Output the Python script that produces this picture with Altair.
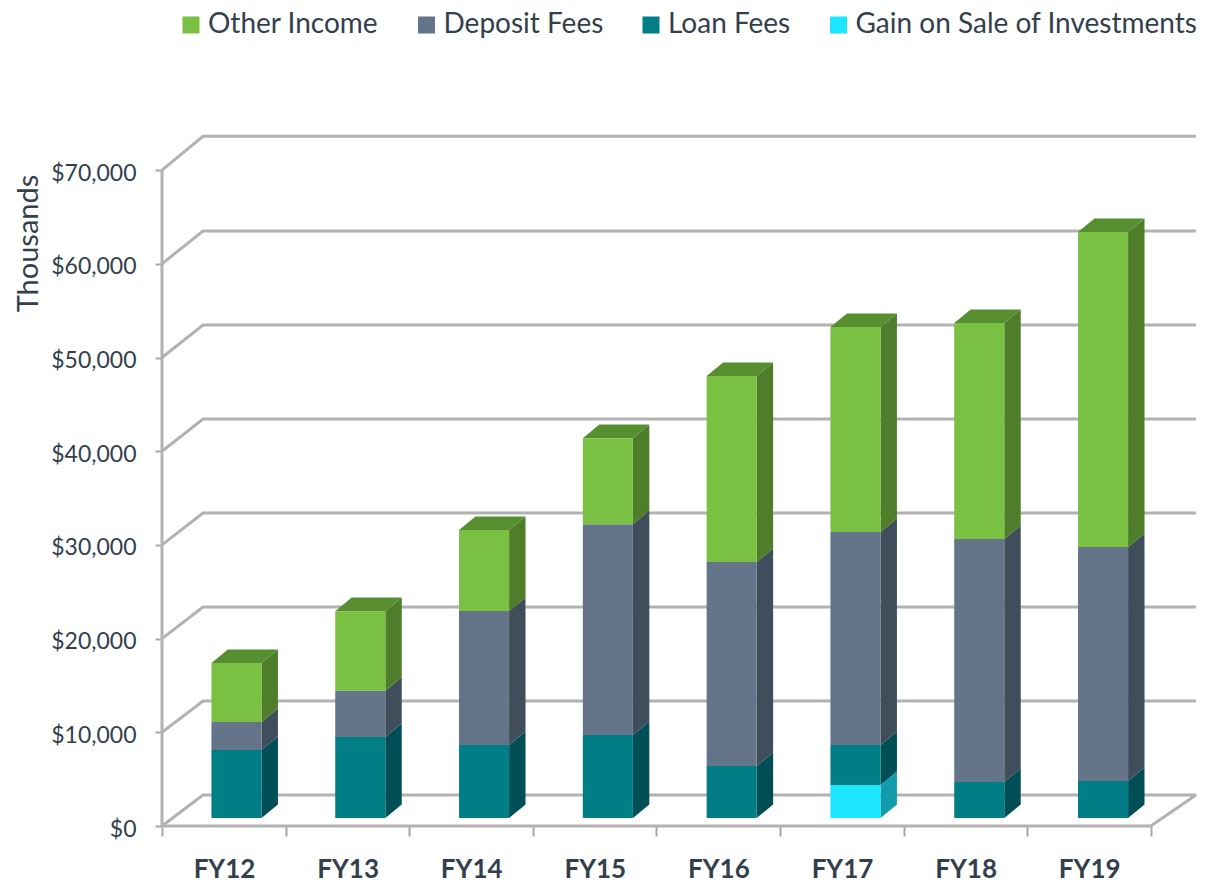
import altair as alt
import pandas as pd

years = ["FY12", "FY13", "FY14", "FY15", "FY16", "FY17", "FY18", "FY19"]
gain = [0, 0, 0, 0, 0, 3.52, 0, 0]
loan = [7.26, 8.64, 7.79, 8.86, 5.55, 4.27, 3.84, 3.95]
deposit = [2.99, 4.94, 14.30, 22.50, 21.77, 22.73, 25.93, 24.97]
other = [6.30, 8.50, 8.64, 9.18, 19.85, 21.88, 23.05, 33.62]

names = ["Other Income", "Deposit Fees", "Loan Fees", "Gain on Sale of Investments"]
front = ["#7AC143", "#64758A", "#007D85", "#1CE6FF"]
side = {"Other Income": "#4F7E2B", "Deposit Fees": "#404D5A", "Loan Fees": "#004F56",
        "Gain on Sale of Investments": "#129CAB"}
top_green = "#578F30"

levels = [0, 10, 20, 30, 40, 50, 60, 70]
back_levels = [3.31, 13.34, 23.37, 33.40, 43.44, 53.47, 63.50, 73.60]

Y_MAX = 74.707
X_MAX = 8.39
BASE = 0.85
BAR_L, BAR_W, BAR_STEP = 0.40, 0.405, 1.0016
DX, DY = 0.133, 1.45
WALL_DX, WALL_END, FLOOR_END = 0.332, 8.366, 8.0
INK = "#333F4D"
FONT = "Lato"
GRID = "#B2B2B2"

xs = alt.Scale(domain=[0, X_MAX], nice=False, zero=False)
ys = alt.Scale(domain=[0, Y_MAX], nice=False, zero=False)

fronts, sides, tops = [], [], []
for k, yr in enumerate(years):
    v = BASE
    l = k * BAR_STEP + BAR_L
    r = l + BAR_W
    for name, series in zip(names[::-1], [gain, loan, deposit, other]):
        val = series[k]
        if val <= 0:
            continue
        fronts.append(dict(name=name, l=l, r=r, y0=v, y1=v + val))
        sid = f"{yr}-{name}"
        sides.append(dict(id=sid, x=r, y0=v, y1=v + val, c=side[name]))
        sides.append(dict(id=sid, x=r + DX, y0=v + DY, y1=v + val + DY, c=side[name]))
        v += val
    tops.append(dict(id=yr, y=v, l=l, r=r, c=top_green))
    tops.append(dict(id=yr, y=v + DY, l=l + DX, r=r + DX, c=top_green))

lines = []
for i, (lv, bk) in enumerate(zip(levels, back_levels)):
    lines += [dict(id=f"w{lv}", x=0, y=lv, o=0), dict(id=f"w{lv}", x=WALL_DX, y=bk, o=1),
              dict(id=f"w{lv}", x=WALL_END, y=bk, o=2)]
lines += [dict(id="floor", x=0, y=0, o=0), dict(id="floor", x=FLOOR_END, y=0, o=1),
          dict(id="floor", x=WALL_END, y=back_levels[0], o=2)]
lines += [dict(id="axis", x=0, y=0, o=0), dict(id="axis", x=0, y=70, o=1)]

label_map = "{" + ",".join(f"'{i}':'{y}'" for i, y in enumerate(years)) + "}"

x_axis = alt.Axis(
    values=list(range(9)), title=None, domain=False, grid=False, tickSize=10, tickWidth=2,
    tickColor="#A6A8A9", labelOffset=62, labelPadding=20, labelFontSize=26, labelFont=FONT,
    labelFontWeight="bold", labelColor=INK, labelBaseline="top", labelAngle=0,
    labelExpr=f"({label_map})[datum.value] || ''", labelOverlap=False, labelFlush=False)
y_axis = alt.Axis(
    values=levels, title="Thousands", domain=False, grid=False, tickSize=7, tickWidth=2,
    tickColor="#A6A8A9", labelPadding=19, labelFontSize=23, labelFont=FONT,
    labelColor=INK, labelFontWeight="normal", labelOffset=3,
    labelExpr="'$' + format(datum.value * 1000, ',')",
    titleFont=FONT, titleFontSize=29, titleFontWeight="normal", titleColor=INK,
    titleX=-134, titleY=117, titleAngle=270, titleAlign="center", titleBaseline="middle")

grid = alt.Chart(pd.DataFrame(lines)).mark_line(color=GRID, strokeWidth=3).encode(
    x=alt.X("x:Q", scale=xs, axis=x_axis),
    y=alt.Y("y:Q", scale=ys, axis=y_axis),
    detail="id:N",
    order="o:Q",
)

faces = alt.Chart(pd.DataFrame(fronts)).mark_rect().encode(
    x=alt.X("l:Q", scale=xs, axis=x_axis),
    x2="r:Q",
    y=alt.Y("y0:Q", scale=ys, axis=y_axis),
    y2="y1:Q",
    color=alt.Color("name:N", scale=alt.Scale(domain=names, range=front), sort=names, legend=alt.Legend(
        title=None, orient="none", direction="horizontal", columns=4, legendX=15, legendY=-115,
        symbolType="square", symbolSize=289, symbolStrokeWidth=0, labelFont=FONT, labelFontSize=28,
        labelColor=INK, labelLimit=500, columnPadding=33.5, labelOffset=3, symbolOffset=0)),
)

sides_l = alt.Chart(pd.DataFrame(sides)).mark_area(orient="vertical", interpolate="linear").encode(
    x=alt.X("x:Q", scale=xs, axis=x_axis),
    y=alt.Y("y0:Q", scale=ys, axis=y_axis, stack=None),
    y2="y1:Q",
    detail="id:N",
    fill=alt.Fill("c:N", scale=None, legend=None),
)

tops_l = alt.Chart(pd.DataFrame(tops)).mark_area(orient="horizontal", interpolate="linear").encode(
    y=alt.Y("y:Q", scale=ys, axis=y_axis, stack=None),
    x=alt.X("l:Q", scale=xs, axis=x_axis),
    x2="r:Q",
    detail="id:N",
    fill=alt.Fill("c:N", scale=None, legend=None),
)

chart = alt.layer(grid, sides_l, tops_l, faces).properties(
    width=1037, height=700,
    padding={"left": 154, "top": 118, "right": 0, "bottom": 56},
    autosize=alt.AutoSizeParams(type="none"),
    background="white",
).configure_view(strokeWidth=0)

chart.save("out.html", embed_options={"renderer": "svg", "actions": False})
